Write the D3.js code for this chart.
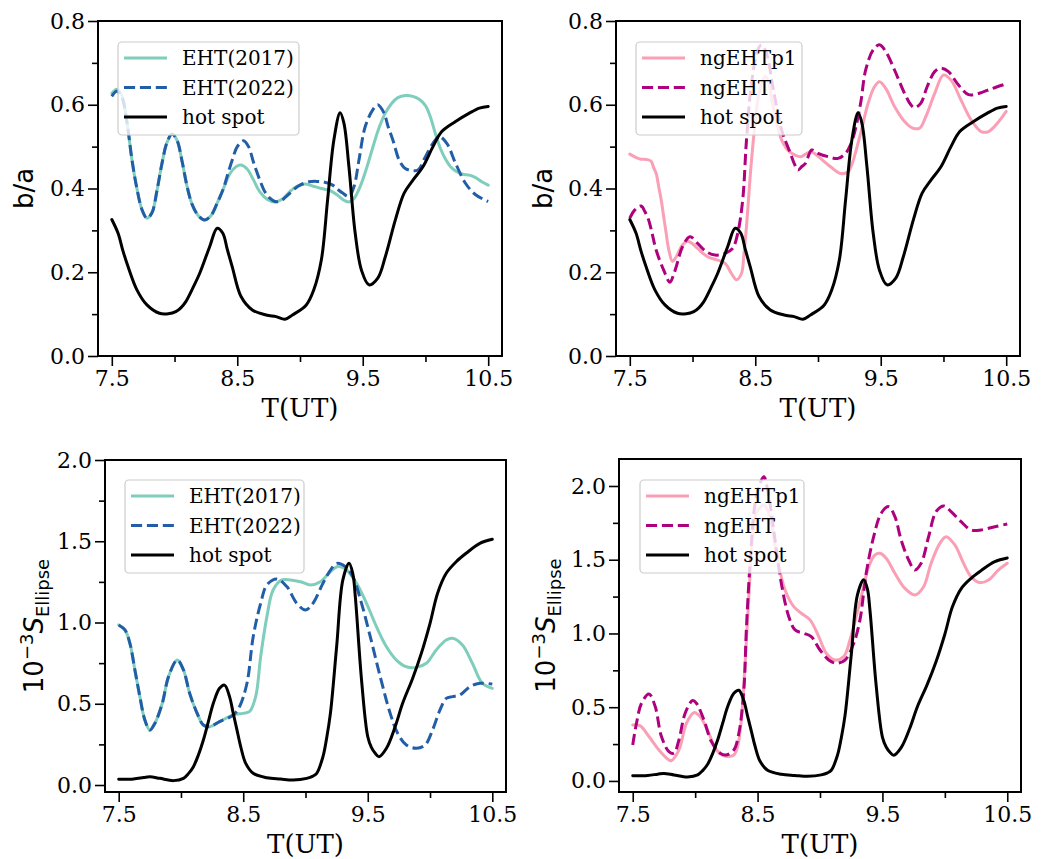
<!DOCTYPE html>
<html><head><meta charset="utf-8">
<script src="https://cdn.jsdelivr.net/npm/d3@7"></script>
<style>body{margin:0;background:#fff}</style>
</head><body>
<svg id="c" width="1056" height="859" xmlns="http://www.w3.org/2000/svg"></svg>
<script>
// ---------- data ----------
const xTicksMajor = [7.5, 8.5, 9.5, 10.5];
const xTicksMinor = [8.0, 9.0, 10.0];
const baTicks = [0.0, 0.2, 0.4, 0.6, 0.8];
const baMinor = [0.1, 0.3, 0.5, 0.7];
const sTicks = [0.0, 0.5, 1.0, 1.5, 2.0];
const sMinor = [0.25, 0.75, 1.25, 1.75];
const labelsEHT = ["EHT(2017)", "EHT(2022)", "hot spot"];
const labelsNG = ["ngEHTp1", "ngEHT", "hot spot"];

// b/a of hot spot [T(UT), value]
const hotBA = [[7.50,0.326],[7.55,0.293],[7.59,0.250],[7.63,0.213],[7.70,0.158],[7.78,0.122],[7.88,0.102],[7.95,0.101],[8.01,0.106],[8.05,0.115],[8.09,0.130],[8.15,0.165],[8.20,0.197],[8.28,0.261],[8.34,0.305],[8.385,0.293],[8.42,0.255],[8.46,0.213],[8.53,0.142],[8.62,0.110],[8.73,0.098],[8.81,0.094],[8.88,0.088],[8.94,0.098],[9.05,0.122],[9.11,0.158],[9.17,0.229],[9.22,0.373],[9.27,0.516],[9.32,0.581],[9.35,0.556],[9.39,0.452],[9.44,0.293],[9.49,0.205],[9.55,0.170],[9.62,0.186],[9.68,0.237],[9.76,0.325],[9.83,0.389],[9.90,0.420],[9.98,0.452],[10.06,0.500],[10.13,0.536],[10.24,0.560],[10.35,0.580],[10.43,0.592],[10.50,0.596]];
const eht2017BA = [[7.50,0.627],[7.54,0.637],[7.58,0.622],[7.62,0.560],[7.66,0.470],[7.70,0.400],[7.74,0.350],[7.78,0.329],[7.82,0.342],[7.86,0.395],[7.90,0.460],[7.94,0.510],[7.98,0.530],[8.02,0.515],[8.06,0.465],[8.10,0.405],[8.14,0.362],[8.19,0.335],[8.24,0.325],[8.29,0.335],[8.34,0.365],[8.39,0.400],[8.44,0.435],[8.49,0.452],[8.53,0.456],[8.58,0.446],[8.63,0.420],[8.68,0.392],[8.74,0.374],[8.80,0.368],[8.86,0.375],[8.92,0.393],[8.98,0.406],[9.04,0.411],[9.10,0.406],[9.17,0.400],[9.24,0.395],[9.30,0.384],[9.35,0.372],[9.39,0.368],[9.43,0.376],[9.48,0.405],[9.53,0.448],[9.58,0.498],[9.63,0.545],[9.68,0.580],[9.73,0.603],[9.78,0.617],[9.84,0.622],[9.90,0.620],[9.95,0.613],[10.00,0.598],[10.04,0.570],[10.08,0.530],[10.12,0.495],[10.16,0.470],[10.20,0.452],[10.25,0.440],[10.30,0.434],[10.35,0.432],[10.40,0.426],[10.45,0.416],[10.50,0.408]];
const eht2022BA = [[7.50,0.620],[7.54,0.632],[7.58,0.618],[7.62,0.560],[7.66,0.470],[7.70,0.400],[7.74,0.350],[7.78,0.329],[7.82,0.342],[7.86,0.395],[7.90,0.460],[7.94,0.510],[7.98,0.530],[8.02,0.515],[8.06,0.465],[8.10,0.405],[8.14,0.362],[8.19,0.335],[8.24,0.325],[8.29,0.335],[8.34,0.365],[8.39,0.400],[8.42,0.430],[8.46,0.468],[8.50,0.500],[8.55,0.514],[8.59,0.500],[8.63,0.462],[8.68,0.420],[8.72,0.392],[8.76,0.377],[8.80,0.369],[8.84,0.369],[8.88,0.378],[8.92,0.389],[8.96,0.400],[9.00,0.408],[9.07,0.416],[9.13,0.417],[9.18,0.416],[9.26,0.408],[9.30,0.398],[9.34,0.389],[9.39,0.381],[9.43,0.404],[9.47,0.468],[9.52,0.548],[9.58,0.588],[9.62,0.600],[9.67,0.580],[9.70,0.550],[9.74,0.516],[9.79,0.468],[9.83,0.450],[9.87,0.444],[9.94,0.444],[10.00,0.476],[10.06,0.508],[10.11,0.524],[10.17,0.508],[10.24,0.460],[10.32,0.412],[10.40,0.385],[10.50,0.369]];
const ngEHTp1BA = [[7.50,0.482],[7.55,0.474],[7.59,0.470],[7.64,0.469],[7.67,0.465],[7.69,0.450],[7.71,0.436],[7.73,0.405],[7.75,0.373],[7.77,0.333],[7.79,0.293],[7.81,0.255],[7.84,0.226],[7.87,0.237],[7.92,0.265],[7.96,0.274],[8.00,0.268],[8.04,0.257],[8.12,0.237],[8.20,0.229],[8.26,0.221],[8.31,0.197],[8.35,0.182],[8.39,0.197],[8.41,0.245],[8.43,0.309],[8.45,0.390],[8.47,0.468],[8.50,0.560],[8.52,0.611],[8.55,0.650],[8.58,0.668],[8.61,0.651],[8.63,0.615],[8.66,0.572],[8.71,0.516],[8.75,0.495],[8.79,0.484],[8.86,0.476],[8.90,0.482],[8.94,0.488],[8.98,0.482],[9.02,0.472],[9.10,0.452],[9.18,0.436],[9.24,0.440],[9.27,0.458],[9.29,0.476],[9.34,0.532],[9.40,0.604],[9.45,0.643],[9.49,0.655],[9.54,0.639],[9.61,0.596],[9.69,0.560],[9.75,0.545],[9.81,0.544],[9.86,0.572],[9.93,0.627],[10.00,0.671],[10.06,0.659],[10.14,0.611],[10.22,0.564],[10.30,0.536],[10.36,0.536],[10.43,0.556],[10.50,0.584]];
const ngEHTBA = [[7.50,0.329],[7.54,0.349],[7.59,0.358],[7.62,0.345],[7.65,0.325],[7.68,0.290],[7.71,0.253],[7.77,0.205],[7.82,0.176],[7.85,0.195],[7.87,0.213],[7.92,0.261],[7.98,0.285],[8.04,0.269],[8.11,0.249],[8.18,0.241],[8.26,0.245],[8.32,0.257],[8.36,0.293],[8.40,0.373],[8.43,0.516],[8.47,0.651],[8.52,0.731],[8.55,0.743],[8.59,0.723],[8.64,0.643],[8.71,0.540],[8.78,0.484],[8.81,0.460],[8.84,0.444],[8.87,0.452],[8.90,0.460],[8.95,0.492],[9.00,0.484],[9.08,0.476],[9.16,0.472],[9.22,0.484],[9.26,0.505],[9.29,0.532],[9.34,0.604],[9.38,0.683],[9.44,0.731],[9.49,0.743],[9.54,0.727],[9.61,0.683],[9.69,0.627],[9.74,0.600],[9.77,0.593],[9.82,0.604],[9.87,0.643],[9.93,0.679],[9.98,0.687],[10.04,0.679],[10.12,0.647],[10.20,0.624],[10.28,0.627],[10.39,0.639],[10.50,0.650]];

// 10^-3 S_Ellipse
const hotS = [[7.50,0.035],[7.62,0.037],[7.70,0.046],[7.75,0.051],[7.83,0.041],[7.94,0.027],[8.02,0.041],[8.06,0.070],[8.10,0.113],[8.14,0.185],[8.18,0.277],[8.22,0.390],[8.26,0.503],[8.31,0.595],[8.35,0.615],[8.39,0.544],[8.42,0.440],[8.45,0.338],[8.48,0.235],[8.52,0.133],[8.58,0.072],[8.69,0.045],[8.80,0.037],[8.90,0.031],[9.01,0.041],[9.06,0.055],[9.09,0.072],[9.14,0.174],[9.17,0.290],[9.20,0.441],[9.25,0.851],[9.30,1.262],[9.35,1.364],[9.38,1.300],[9.40,1.159],[9.45,0.646],[9.50,0.297],[9.53,0.230],[9.56,0.195],[9.59,0.174],[9.65,0.226],[9.72,0.359],[9.78,0.503],[9.86,0.656],[9.93,0.810],[10.00,0.995],[10.06,1.179],[10.13,1.303],[10.21,1.374],[10.29,1.426],[10.40,1.487],[10.50,1.512]];
const eht2017S = [[7.50,0.985],[7.55,0.954],[7.59,0.872],[7.63,0.708],[7.67,0.544],[7.71,0.400],[7.75,0.338],[7.79,0.379],[7.85,0.503],[7.90,0.667],[7.97,0.769],[8.02,0.708],[8.07,0.564],[8.13,0.441],[8.18,0.369],[8.23,0.359],[8.31,0.390],[8.42,0.431],[8.50,0.441],[8.55,0.451],[8.60,0.544],[8.64,0.790],[8.69,1.036],[8.74,1.200],[8.81,1.262],[8.88,1.262],[8.96,1.251],[9.04,1.231],[9.12,1.251],[9.20,1.313],[9.26,1.344],[9.33,1.323],[9.41,1.241],[9.49,1.118],[9.57,0.974],[9.65,0.851],[9.73,0.769],[9.81,0.728],[9.89,0.724],[9.97,0.749],[10.05,0.831],[10.13,0.892],[10.18,0.903],[10.26,0.862],[10.34,0.749],[10.42,0.626],[10.50,0.595]];
const eht2022S = [[7.50,0.985],[7.55,0.954],[7.59,0.872],[7.63,0.708],[7.67,0.544],[7.71,0.400],[7.75,0.338],[7.79,0.379],[7.85,0.503],[7.90,0.667],[7.97,0.769],[8.02,0.708],[8.07,0.564],[8.13,0.441],[8.18,0.369],[8.23,0.359],[8.31,0.390],[8.42,0.431],[8.47,0.482],[8.53,0.626],[8.58,0.913],[8.64,1.118],[8.69,1.231],[8.77,1.268],[8.85,1.221],[8.93,1.118],[9.00,1.077],[9.06,1.118],[9.14,1.241],[9.21,1.333],[9.25,1.364],[9.32,1.344],[9.38,1.282],[9.45,1.118],[9.52,0.913],[9.60,0.667],[9.68,0.441],[9.74,0.318],[9.81,0.246],[9.89,0.226],[9.96,0.246],[10.02,0.338],[10.08,0.462],[10.13,0.533],[10.18,0.544],[10.24,0.554],[10.32,0.605],[10.40,0.626],[10.50,0.621]];
const ngEHTp1S = [[7.50,0.380],[7.56,0.373],[7.63,0.301],[7.71,0.210],[7.79,0.142],[7.81,0.138],[7.87,0.210],[7.93,0.391],[7.99,0.463],[8.04,0.436],[8.11,0.323],[8.17,0.210],[8.24,0.169],[8.31,0.176],[8.34,0.233],[8.37,0.414],[8.40,0.798],[8.43,1.250],[8.46,1.656],[8.49,1.815],[8.55,1.871],[8.60,1.792],[8.65,1.543],[8.72,1.295],[8.79,1.182],[8.85,1.137],[8.92,1.092],[8.99,0.979],[9.05,0.866],[9.12,0.820],[9.19,0.843],[9.24,0.956],[9.29,1.114],[9.35,1.318],[9.39,1.453],[9.44,1.532],[9.48,1.544],[9.53,1.510],[9.60,1.408],[9.68,1.306],[9.76,1.261],[9.83,1.317],[9.89,1.476],[9.96,1.611],[10.01,1.656],[10.08,1.600],[10.15,1.476],[10.21,1.385],[10.28,1.345],[10.35,1.363],[10.43,1.431],[10.50,1.476]];
const ngEHTS = [[7.50,0.244],[7.53,0.391],[7.57,0.527],[7.63,0.590],[7.68,0.504],[7.73,0.301],[7.79,0.199],[7.83,0.188],[7.87,0.278],[7.92,0.459],[7.98,0.545],[8.01,0.527],[8.07,0.414],[8.13,0.267],[8.20,0.188],[8.25,0.176],[8.31,0.210],[8.35,0.323],[8.39,0.617],[8.41,1.024],[8.44,1.476],[8.48,1.882],[8.52,2.018],[8.55,2.063],[8.59,1.928],[8.64,1.634],[8.69,1.340],[8.75,1.114],[8.80,1.024],[8.87,1.001],[8.93,0.979],[9.00,0.888],[9.07,0.820],[9.13,0.798],[9.20,0.820],[9.27,0.933],[9.32,1.092],[9.37,1.408],[9.43,1.656],[9.49,1.815],[9.55,1.860],[9.60,1.792],[9.65,1.634],[9.71,1.498],[9.76,1.431],[9.81,1.476],[9.87,1.656],[9.93,1.826],[9.99,1.865],[10.05,1.826],[10.13,1.758],[10.21,1.702],[10.29,1.702],[10.40,1.724],[10.50,1.742]];

// ---------- styles ----------
const C_TEAL = "#7fcdbb", C_BLUE = "#225ea8", C_PINK = "#fa9fb5", C_MAG = "#ae017e", C_BLACK = "#000000";
const SERIF = "'DejaVu Serif', serif", SANS = "'DejaVu Sans', sans-serif";
const LW = 3, DASH = "11.1,4.8";

const svg = d3.select("#c");

function panel(cfg) {
  const g = svg.append("g");
  const x = d3.scaleLinear().domain([7.39, 10.61]).range([cfg.left, cfg.right]);
  const y = d3.scaleLinear().domain(cfg.yDomain).range([cfg.bottom, cfg.top]);
  const clipId = "clip" + cfg.id;
  svg.append("clipPath").attr("id", clipId).append("rect")
    .attr("x", cfg.left).attr("y", cfg.top).attr("width", cfg.right - cfg.left).attr("height", cfg.bottom - cfg.top);

  const line = d3.line().x(d => x(d[0])).y(d => y(d[1])).curve(d3.curveCatmullRom.alpha(0.5));
  const lg = g.append("g").attr("clip-path", `url(#${clipId})`);
  cfg.series.forEach(s => {
    lg.append("path").attr("d", line(s.data)).attr("fill", "none")
      .attr("stroke", s.color).attr("stroke-width", LW)
      .attr("stroke-dasharray", s.dash ? DASH : null)
      .attr("stroke-linejoin", "round").attr("stroke-linecap", s.dash ? "butt" : "round");
  });

  // axes
  const xAx = d3.axisBottom(x).tickValues(xTicksMajor).tickSize(10).tickPadding(4).tickFormat(d3.format(".1f"));
  const xMin = d3.axisBottom(x).tickValues(xTicksMinor).tickSize(6).tickFormat("");
  const yAx = d3.axisLeft(y).tickValues(cfg.yTicks).tickSize(10).tickPadding(3).tickFormat(d3.format(".1f"));
  const yMin = d3.axisLeft(y).tickValues(cfg.yMinor).tickSize(6).tickFormat("");
  [[xAx, "x"], [xMin, "x"], [yAx, "y"], [yMin, "y"]].forEach(([ax, t]) => {
    const a = g.append("g").attr("transform", t === "x" ? `translate(0,${cfg.bottom})` : `translate(${cfg.left},0)`).call(ax);
    a.select(".domain").remove();
    a.selectAll("line").attr("stroke", "#000").attr("stroke-width", 1.6);
    a.selectAll("text").attr("font-family", SERIF).attr("font-size", 22).attr("fill", "#000");
  });
  g.append("rect").attr("x", cfg.left).attr("y", cfg.top).attr("width", cfg.right - cfg.left).attr("height", cfg.bottom - cfg.top)
    .attr("fill", "none").attr("stroke", "#000").attr("stroke-width", 2);

  // x label
  g.append("text").attr("x", (cfg.left + cfg.right) / 2).attr("y", cfg.bottom + 61)
    .attr("text-anchor", "middle").attr("font-family", SERIF).attr("font-size", 26).text("T(UT)");
  // y label
  const yl = g.append("text").attr("transform", `translate(${cfg.ylx},${(cfg.top + cfg.bottom) / 2}) rotate(-90)`)
    .attr("text-anchor", "middle").attr("font-family", SANS).attr("font-size", 26);
  if (cfg.ylabel === "ba") {
    yl.text("b/a");
  } else {
    yl.append("tspan").text("10");
    yl.append("tspan").attr("dy", -10).attr("font-size", 18).text("\u22123");
    yl.append("tspan").attr("dy", 10).attr("font-style", "italic").text("S");
    yl.append("tspan").attr("dy", 6).attr("font-size", 18).text("Ellipse");
  }

  // legend
  const L = cfg.legend;
  const lgd = g.append("g");
  lgd.append("rect").attr("x", L.x).attr("y", L.y).attr("width", L.w).attr("height", 93).attr("rx", 4)
    .attr("fill", "#fff").attr("fill-opacity", 0.8).attr("stroke", "#cccccc").attr("stroke-width", 1.2);
  cfg.series.forEach((s, i) => {
    const yy = L.y + 16 + i * 29.5;
    lgd.append("line").attr("x1", L.x + 6).attr("x2", L.x + 49).attr("y1", yy).attr("y2", yy)
      .attr("stroke", s.color).attr("stroke-width", LW).attr("stroke-dasharray", s.dash ? DASH : null);
    lgd.append("text").attr("x", L.x + 64).attr("y", yy + 7).attr("font-family", SERIF).attr("font-size", 20)
      .attr("fill", "#000").text(s.label);
  });
}

panel({ id: 1, left: 98, right: 502, top: 21, bottom: 356, yDomain: [0, 0.8], yTicks: baTicks, yMinor: baMinor,
  ylabel: "ba", ylx: 33, legend: { x: 118, y: 42, w: 181 },
  series: [
    { data: eht2017BA, color: C_TEAL, label: labelsEHT[0] },
    { data: eht2022BA, color: C_BLUE, dash: true, label: labelsEHT[1] },
    { data: hotBA, color: C_BLACK, label: labelsEHT[2] } ] });
panel({ id: 2, left: 616, right: 1020, top: 21, bottom: 356, yDomain: [0, 0.8], yTicks: baTicks, yMinor: baMinor,
  ylabel: "ba", ylx: 552, legend: { x: 636, y: 42, w: 166 },
  series: [
    { data: ngEHTp1BA, color: C_PINK, label: labelsNG[0] },
    { data: ngEHTBA, color: C_MAG, dash: true, label: labelsNG[1] },
    { data: hotBA, color: C_BLACK, label: labelsNG[2] } ] });
panel({ id: 3, left: 105, right: 506, top: 460, bottom: 792, yDomain: [-0.043, 2.0], yTicks: sTicks, yMinor: sMinor,
  ylabel: "s", ylx: 43, legend: { x: 125, y: 480, w: 179 },
  series: [
    { data: eht2017S, color: C_TEAL, label: labelsEHT[0] },
    { data: eht2022S, color: C_BLUE, dash: true, label: labelsEHT[1] },
    { data: hotS, color: C_BLACK, label: labelsEHT[2] } ] });
panel({ id: 4, left: 619, right: 1021, top: 459, bottom: 792, yDomain: [-0.075, 2.183], yTicks: sTicks, yMinor: sMinor,
  ylabel: "s", ylx: 555, legend: { x: 640, y: 480, w: 164 },
  series: [
    { data: ngEHTp1S, color: C_PINK, label: labelsNG[0] },
    { data: ngEHTS, color: C_MAG, dash: true, label: labelsNG[1] },
    { data: hotS, color: C_BLACK, label: labelsNG[2] } ] });
</script>
</body></html>
